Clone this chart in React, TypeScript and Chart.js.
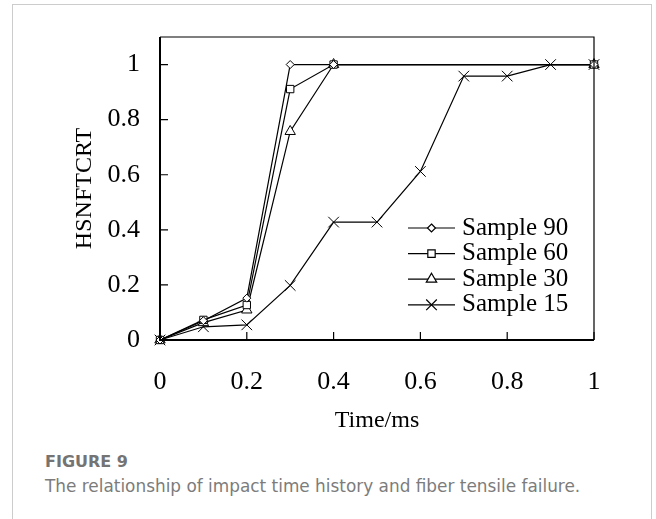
import React, { useEffect, useRef } from 'react';
import { Chart, registerables } from 'chart.js';

Chart.register(...registerables);

// ---- data ----
const seriesNames = ['Sample 90', 'Sample 60', 'Sample 30', 'Sample 15'];
const timeShort = [0, 0.1, 0.2, 0.3, 0.4, 1];
const timeFull = [0, 0.1, 0.2, 0.3, 0.4, 0.5, 0.6, 0.7, 0.8, 0.9, 1];
const sample90 = [0, 0.07, 0.152, 1, 1, 1];
const sample60 = [0, 0.073, 0.127, 0.911, 1, 1];
const sample30 = [0, 0.063, 0.109, 0.757, 1, 1];
const sample15 = [0, 0.048, 0.055, 0.198, 0.428, 0.428, 0.612, 0.958, 0.958, 1, 1];
const xTickValues = [0, 0.2, 0.4, 0.6, 0.8, 1];
const yTickValues = [0, 0.2, 0.4, 0.6, 0.8, 1];
const xTitle = 'Time/ms';
const yTitle = 'HSNFTCRT';
const figureLabel = 'FIGURE 9';
const captionText = 'The relationship of impact time history and fiber tensile failure.';

const markerStyles = ['rectRot', 'rect', 'triangle', 'crossRot'];
const markerRadii = [4, 5.2, 6, 7.5];

const SERIF = '"Liberation Serif", "Times New Roman", serif';
const SANS = '"DejaVu Sans", "Open Sans", sans-serif';

function drawMarker(ctx: CanvasRenderingContext2D, style: string, x: number, y: number, r: number) {
  ctx.beginPath();
  if (style === 'rectRot') {
    ctx.moveTo(x, y - r);
    ctx.lineTo(x + r, y);
    ctx.lineTo(x, y + r);
    ctx.lineTo(x - r, y);
    ctx.closePath();
    ctx.fill();
    ctx.stroke();
  } else if (style === 'rect') {
    const s = r * Math.SQRT1_2;
    ctx.rect(x - s, y - s, 2 * s, 2 * s);
    ctx.fill();
    ctx.stroke();
  } else if (style === 'triangle') {
    let a = 0;
    ctx.moveTo(x + Math.sin(a) * r, y - Math.cos(a) * r);
    a += (2 * Math.PI) / 3;
    ctx.lineTo(x + Math.sin(a) * r, y - Math.cos(a) * r);
    a += (2 * Math.PI) / 3;
    ctx.lineTo(x + Math.sin(a) * r, y - Math.cos(a) * r);
    ctx.closePath();
    ctx.fill();
    ctx.stroke();
  } else if (style === 'crossRot') {
    const d = r * Math.SQRT1_2;
    ctx.moveTo(x - d, y - d);
    ctx.lineTo(x + d, y + d);
    ctx.moveTo(x + d, y - d);
    ctx.lineTo(x - d, y + d);
    ctx.stroke();
  }
}

const framePlugin = {
  id: 'frameTicksLegend',
  afterDatasetsDraw(chart: any) {
    const { ctx, chartArea, scales } = chart;
    const { left, right, top, bottom } = chartArea;
    ctx.save();
    ctx.strokeStyle = '#000';
    // frame
    ctx.lineWidth = 1.2;
    ctx.beginPath();
    ctx.moveTo(left, top);
    ctx.lineTo(right, top);
    ctx.lineTo(right, bottom);
    ctx.stroke();
    ctx.lineWidth = 2;
    ctx.beginPath();
    ctx.moveTo(left, top);
    ctx.lineTo(left, bottom);
    ctx.lineTo(right, bottom);
    ctx.stroke();
    // inward ticks
    ctx.lineWidth = 1.2;
    ctx.beginPath();
    scales.x.ticks.forEach((t: any) => {
      const px = scales.x.getPixelForValue(t.value);
      ctx.moveTo(px, bottom);
      ctx.lineTo(px, bottom - 8);
    });
    scales.y.ticks.forEach((t: any) => {
      const py = scales.y.getPixelForValue(t.value);
      ctx.moveTo(left, py);
      ctx.lineTo(left + 8, py);
    });
    ctx.stroke();
    // legend
    const lx0 = 408;
    const lx1 = 455;
    const ly0 = 228;
    const step = 25.6;
    ctx.font = `25px ${SERIF}`;
    ctx.textBaseline = 'middle';
    ctx.textAlign = 'left';
    chart.data.datasets.forEach((ds: any, i: number) => {
      const y = ly0 + i * step;
      ctx.lineWidth = 1.2;
      ctx.strokeStyle = '#000';
      ctx.beginPath();
      ctx.moveTo(lx0, y);
      ctx.lineTo(lx1, y);
      ctx.stroke();
      ctx.fillStyle = '#fff';
      drawMarker(ctx, ds.pointStyle, (lx0 + lx1) / 2, y, ds.pointRadius);
      ctx.fillStyle = '#000';
      ctx.fillText(ds.label, 462, y);
    });
    ctx.restore();
  },
};

function makeDataset(i: number, xs: number[], ys: number[]) {
  return {
    label: seriesNames[i],
    data: xs.map((x, k) => ({ x, y: ys[k] })),
    borderColor: '#000',
    backgroundColor: '#fff',
    borderWidth: 1.2,
    pointStyle: markerStyles[i],
    pointRadius: markerRadii[i],
    pointBorderWidth: 1,
    pointBorderColor: '#000',
    pointBackgroundColor: '#fff',
    tension: 0,
    clip: false as any,
  };
}

function ChartView() {
  const ref = useRef<HTMLCanvasElement | null>(null);
  useEffect(() => {
    if (!ref.current) return;
    const chart = new Chart(ref.current, {
      type: 'line',
      data: {
        datasets: [
          makeDataset(0, timeShort, sample90),
          makeDataset(1, timeShort, sample60),
          makeDataset(2, timeShort, sample30),
          makeDataset(3, timeFull, sample15),
        ] as any,
      },
      options: {
        animation: false,
        responsive: true,
        maintainAspectRatio: false,
        layout: { padding: { left: 0, right: 62, top: 37, bottom: 0 } },
        plugins: { legend: { display: false }, tooltip: { enabled: false } },
        scales: {
          x: {
            type: 'linear',
            min: 0,
            max: 1,
            afterBuildTicks: (scale: any) => {
              scale.ticks = xTickValues.map((v) => ({ value: v }));
            },
            afterFit: (scale: any) => {
              scale.height = 100;
            },
            grid: { display: false, drawTicks: false },
            border: { display: false },
            ticks: {
              padding: 27,
              color: '#000',
              font: { family: SERIF, size: 26 },
              maxRotation: 0,
              callback: (v: any) => String(Math.round(Number(v) * 10) / 10),
            },
            title: {
              display: true,
              text: xTitle,
              color: '#000',
              font: { family: SERIF, size: 24 },
              padding: { top: 0, bottom: 5 },
            },
          },
          y: {
            type: 'linear',
            min: 0,
            max: 1.1,
            afterBuildTicks: (scale: any) => {
              scale.ticks = yTickValues.map((v) => ({ value: v }));
            },
            afterFit: (scale: any) => {
              scale.width = 160;
            },
            grid: { display: false, drawTicks: false },
            border: { display: false },
            ticks: {
              padding: 20,
              color: '#000',
              font: { family: SERIF, size: 26 },
              callback: (v: any) => String(Math.round(Number(v) * 10) / 10),
            },
            title: {
              display: true,
              text: yTitle,
              color: '#000',
              font: { family: SERIF, size: 24 },
              padding: { top: 70, bottom: 0 },
            },
          },
        },
      },
      plugins: [framePlugin],
    });
    return () => chart.destroy();
  }, []);
  return <canvas ref={ref} />;
}

export default function App() {
  return (
    <>
      <div
        style={{
          position: 'absolute',
          left: 12,
          top: 4,
          width: 640,
          height: 515,
          boxSizing: 'border-box',
          border: '1px solid #cccccc',
          borderBottom: 'none',
          background: '#fff',
        }}
      />
      <div style={{ position: 'absolute', left: 0, top: 0, width: 656, height: 440 }}>
        <ChartView />
      </div>
      <div
        style={{
          position: 'absolute',
          left: 45,
          top: 452,
          fontFamily: SANS,
          fontSize: 16,
          lineHeight: '20px',
          fontWeight: 600,
          color: '#747474',
          whiteSpace: 'nowrap',
        }}
      >
        {figureLabel}
      </div>
      <div
        style={{
          position: 'absolute',
          left: 45,
          top: 476,
          fontFamily: SANS,
          fontSize: 16.9,
          lineHeight: '20px',
          color: '#7c7c7c',
          whiteSpace: 'nowrap',
        }}
      >
        {captionText}
      </div>
    </>
  );
}
